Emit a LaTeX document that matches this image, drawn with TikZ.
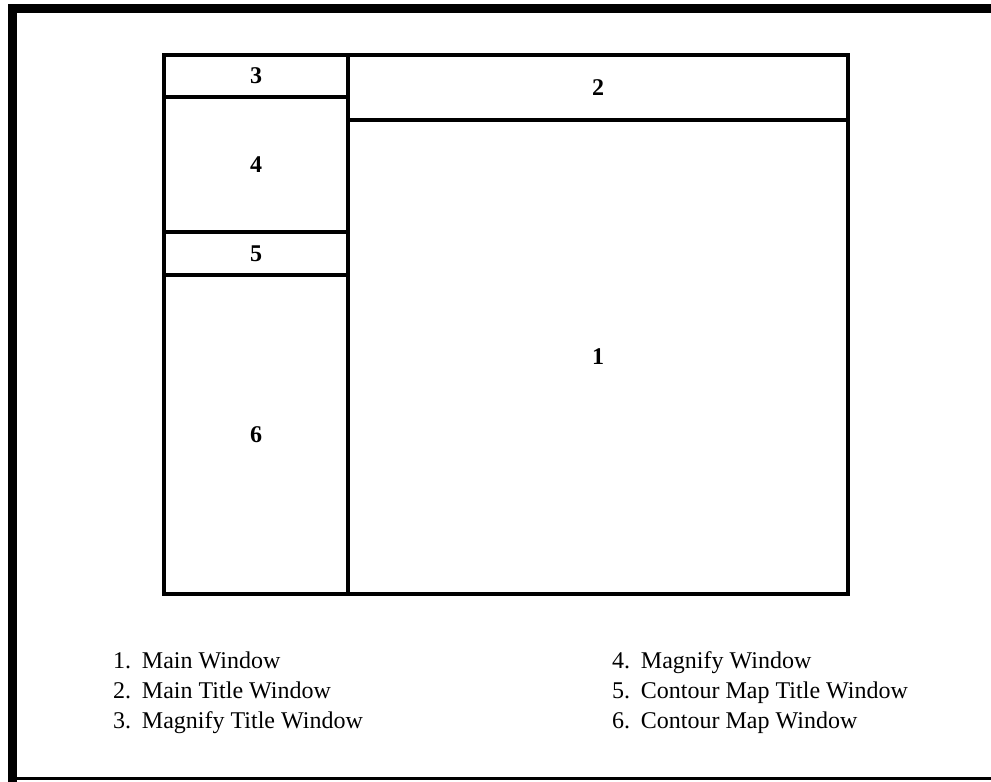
\documentclass[tikz,border=0pt]{standalone}
\usepackage{fontspec}
\setmainfont{Liberation Serif}
\begin{document}
\begin{tikzpicture}[x=1pt,y=-1pt,
  pane/.style={draw=black,line width=3.6pt,inner sep=0pt,outer sep=0pt,
    font=\fontsize{24}{24}\selectfont\bfseries},
  legend/.style={anchor=base west,inner sep=0pt,font=\fontsize{24}{24}\selectfont}]
\useasboundingbox (0,0) rectangle (991,782);
\fill[white] (0,0) rectangle (991,782);
% heavy page frame
\draw[line width=9pt] (12,782) -- (12,8) -- (991,8);
\draw[line width=3pt] (8,778) -- (991,778);
% screen layout panes
\node[pane,minimum width=184pt,minimum height=42pt]  (w3) at (256,76)    {3};
\node[pane,minimum width=184pt,minimum height=135pt] (w4) at (256,164.5) {4};
\node[pane,minimum width=184pt,minimum height=43pt]  (w5) at (256,253.5) {5};
\node[pane,minimum width=184pt,minimum height=319pt] (w6) at (256,434.5) {6};
\node[pane,minimum width=500pt,minimum height=65pt]  (w2) at (598,87.5)  {2};
\node[pane,minimum width=500pt,minimum height=474pt] (w1) at (598,357)   {1};
% key
\node[legend] (k1) at (113,668) {1.\hspace{0.45em}Main Window};
\node[legend] (k2) at (113,698) {2.\hspace{0.45em}Main Title Window};
\node[legend] (k3) at (113,728) {3.\hspace{0.45em}Magnify Title Window};
\node[legend] (k4) at (612,668) {4.\hspace{0.45em}Magnify Window};
\node[legend] (k5) at (612,698) {5.\hspace{0.45em}Contour Map Title Window};
\node[legend] (k6) at (612,728) {6.\hspace{0.45em}Contour Map Window};
\end{tikzpicture}
\end{document}
